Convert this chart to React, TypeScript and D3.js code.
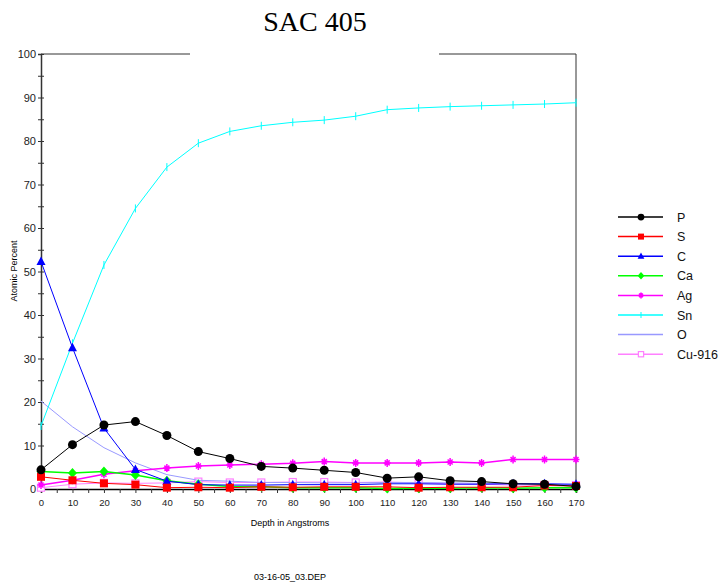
import React, { useEffect, useRef } from "react";
import * as d3 from "d3";

const depths = [0, 10, 20, 30, 40, 50, 60, 70, 80, 90, 100, 110, 120, 130, 140, 150, 160, 170];

const pValues = [4.4, 10.2, 14.7, 15.5, 12.3, 8.6, 7.0, 5.2, 4.8, 4.3, 3.8, 2.5, 2.8, 1.9, 1.7, 1.2, 1.1, 0.6];
const sValues = [2.8, 2.0, 1.3, 1.0, 0.3, 0.4, 0.3, 0.5, 0.4, 0.5, 0.5, 0.5, 0.3, 0.4, 0.4, 0.4, 0.8, 0.7];
const cValues = [52.3, 32.5, 14.0, 4.5, 1.8, 1.0, 0.9, 0.9, 1.0, 1.0, 1.0, 1.2, 1.2, 1.1, 1.1, 1.2, 1.2, 1.1];
const caValues = [4.0, 3.7, 4.0, 3.2, 1.9, 1.1, 0.6, 0.5, 0.3, 0.3, 0.3, 0.1, 0.2, 0.2, 0.3, 0.2, 0.3, 0.3];
const agValues = [0.9, 2.0, 3.4, 4.2, 4.8, 5.3, 5.5, 5.7, 5.9, 6.3, 6.0, 6.0, 6.0, 6.2, 6.0, 6.8, 6.8, 6.8];
const snValues = [14.5, 33.5, 51.5, 64.5, 74.0, 79.5, 82.2, 83.5, 84.3, 84.8, 85.7, 87.2, 87.6, 87.9, 88.1, 88.3, 88.5, 88.8];
const oValues = [20.2, 14.3, 9.5, 6.0, 3.3, 2.0, 1.8, 1.5, 1.5, 1.4, 1.4, 1.5, 1.5, 1.4, 1.3, 1.2, 1.0, 1.0];
const cuValues = [0.3, 1.1, 1.4, 1.3, 1.4, 1.7, 1.5, 1.5, 1.6, 1.6, 1.5, 1.6, 1.4, 1.2, 1.1, 0.9, 0.9, 0.9];

const seriesNames = ["P", "S", "C", "Ca", "Ag", "Sn", "O", "Cu-916"];

const series = [
  { name: "P", values: pValues, color: "#000000", marker: "circle" },
  { name: "S", values: sValues, color: "#ff0000", marker: "square" },
  { name: "C", values: cValues, color: "#0000ff", marker: "triangle" },
  { name: "Ca", values: caValues, color: "#00ff00", marker: "diamond" },
  { name: "Ag", values: agValues, color: "#ff00ff", marker: "star" },
  { name: "Sn", values: snValues, color: "#00ffff", marker: "plus" },
  { name: "O", values: oValues, color: "#9999ff", marker: "none" },
  { name: "Cu-916", values: cuValues, color: "#ff80ff", marker: "open" },
];

const W = 719;
const H = 584;
const plot = { left: 41, right: 576, top: 54, bottom: 489 };
const axisColor = "#333333";

function drawMarker(g: any, type: string, x: number, y: number, color: string, k = 1) {
  if (type === "circle") {
    g.append("circle").attr("cx", x).attr("cy", y).attr("r", 4.5 * k).attr("fill", color);
  } else if (type === "square") {
    g.append("rect").attr("x", x - 4 * k).attr("y", y - 4 * k).attr("width", 8 * k).attr("height", 8 * k).attr("fill", color);
  } else if (type === "triangle") {
    g.append("path").attr("d", `M${x},${y - 5 * k}L${x + 4.5 * k},${y + 3.5 * k}L${x - 4.5 * k},${y + 3.5 * k}Z`).attr("fill", color);
  } else if (type === "diamond") {
    g.append("path").attr("d", `M${x},${y - 5 * k}L${x + 4.5 * k},${y}L${x},${y + 5 * k}L${x - 4.5 * k},${y}Z`).attr("fill", color);
  } else if (type === "star") {
    const a = 3.5 * k, b = 4 * k, c = 2.5 * k;
    g.append("path")
      .attr("d", `M${x - a},${y}H${x + a}M${x},${y - b}V${y + b}M${x - c},${y - c}L${x + c},${y + c}M${x - c},${y + c}L${x + c},${y - c}`)
      .attr("stroke", color)
      .attr("stroke-width", 1.5);
  } else if (type === "plus") {
    g.append("path").attr("d", `M${x},${y - 4 * k}V${y + 4 * k}`).attr("stroke", color).attr("stroke-width", 1);
  } else if (type === "open") {
    g.append("rect").attr("x", x - 3.5 * k).attr("y", y - 3.5 * k).attr("width", 7 * k).attr("height", 7 * k)
      .attr("fill", "white").attr("stroke", color).attr("stroke-width", 1.2);
  }
}

export default function App() {
  const ref = useRef<SVGSVGElement>(null);

  useEffect(() => {
    const svg = d3.select(ref.current);
    svg.selectAll("*").remove();

    const x = d3.scaleLinear().domain([0, 170]).range([plot.left, plot.right]);
    const y = d3.scaleLinear().domain([0, 100]).range([plot.bottom, plot.top]);

    svg.append("rect").attr("width", W).attr("height", H).attr("fill", "white");

    // title
    svg.append("text")
      .attr("x", 315).attr("y", 31)
      .attr("text-anchor", "middle")
      .attr("font-family", "Liberation Serif, Times New Roman, serif")
      .attr("font-size", 28)
      .text("SAC 405");

    // frame (top is broken where the title box sat)
    const frame = svg.append("g").attr("stroke", axisColor).attr("stroke-width", 1).attr("fill", "none");
    frame.append("path").attr("d", `M${plot.left},${plot.top}H190`);
    frame.append("path").attr("d", `M439,${plot.top}H${plot.right}V${plot.bottom}`);

    // y axis
    const yAxis = svg.append("g")
      .attr("transform", `translate(${plot.left},0)`)
      .call(d3.axisLeft(y).tickValues(d3.range(0, 101, 5)).tickSize(3).tickPadding(2)
        .tickFormat((d: any) => (d % 10 === 0 ? String(d) : "")));
    yAxis.select(".domain").attr("stroke", axisColor).attr("stroke-width", 1.5);
    yAxis.selectAll(".tick line").attr("stroke", axisColor).attr("x2", -3).attr("x1", 3);
    yAxis.selectAll("text")
      .attr("font-family", "Liberation Sans Narrow, Arial Narrow, Liberation Sans, sans-serif")
      .attr("font-size", 11)
      .attr("fill", "#222");

    // x axis
    const xAxis = svg.append("g")
      .attr("transform", `translate(0,${plot.bottom})`)
      .call(d3.axisBottom(x).tickValues(d3.range(0, 171, 5)).tickSize(4).tickPadding(6)
        .tickFormat((d: any) => (d % 10 === 0 ? String(d) : "")));
    xAxis.select(".domain").attr("stroke", "#000").attr("stroke-width", 1.5);
    xAxis.selectAll(".tick line").attr("stroke", axisColor);
    xAxis.selectAll("text")
      .attr("font-family", "Liberation Sans, Arial, sans-serif")
      .attr("font-size", 9.5)
      .attr("fill", "#222");

    // axis titles
    svg.append("text")
      .attr("transform", `translate(17,271) rotate(-90)`)
      .attr("text-anchor", "middle")
      .attr("font-family", "Liberation Sans, Arial, sans-serif")
      .attr("font-size", 9)
      .text("Atomic Percent");
    svg.append("text")
      .attr("x", 290).attr("y", 526)
      .attr("text-anchor", "middle")
      .attr("font-family", "Liberation Sans, Arial, sans-serif")
      .attr("font-size", 9)
      .text("Depth in Angstroms");
    svg.append("text")
      .attr("x", 290).attr("y", 580)
      .attr("text-anchor", "middle")
      .attr("font-family", "Liberation Sans, Arial, sans-serif")
      .attr("font-size", 9)
      .text("03-16-05_03.DEP");

    // series lines and markers (drawn in reverse so P ends on top)
    const line = d3.line<number>().x((_, i) => x(depths[i])).y((d) => y(d));
    const drawOrder = [...series].reverse();
    drawOrder.forEach((s) => {
      const g = svg.append("g");
      g.append("path")
        .attr("d", line(s.values))
        .attr("fill", "none")
        .attr("stroke", s.color)
        .attr("stroke-width", s.name === "Ag" || s.name === "Ca" ? 1.5 : 1);
      s.values.forEach((v, i) => drawMarker(g, s.marker, x(depths[i]), y(v), s.color));
    });

    // legend
    const legend = svg.append("g");
    seriesNames.forEach((name, i) => {
      const s = series.find((d) => d.name === name)!;
      const ly = 217 + i * 19.6;
      legend.append("line")
        .attr("x1", 618).attr("x2", 663).attr("y1", ly).attr("y2", ly)
        .attr("stroke", s.color).attr("stroke-width", 1.5);
      drawMarker(legend, s.marker, 641, ly, s.color, 0.75);
      legend.append("text")
        .attr("x", 677).attr("y", ly + 4.5)
        .attr("font-family", "Liberation Sans, Arial, sans-serif")
        .attr("font-size", 12.5)
        .attr("fill", "#111")
        .text(name);
    });
  }, []);

  return (
    <svg
      ref={ref}
      width={W}
      height={H}
      style={{ position: "absolute", left: 0, top: 0 }}
    />
  );
}
